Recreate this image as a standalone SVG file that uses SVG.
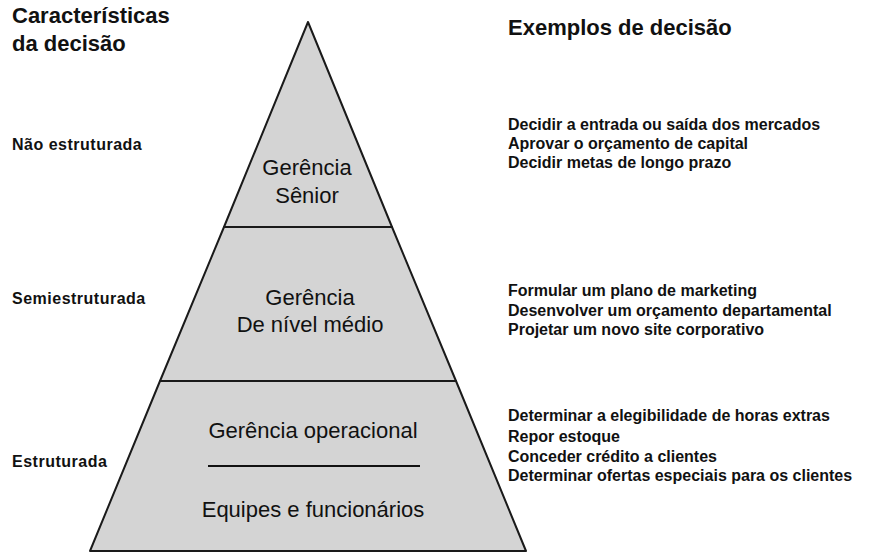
<svg xmlns="http://www.w3.org/2000/svg" width="870" height="560" viewBox="0 0 870 560">
<style>
text{font-family:"Liberation Sans",Arial,sans-serif;fill:#111;}
.h{font-size:22px;font-weight:bold;}
.l{font-size:16px;font-weight:bold;}
.c{font-size:16px;font-weight:bold;letter-spacing:0.5px;}
.n{font-size:22px;text-anchor:middle;}
.tier{fill:#d4d4d4;stroke:#1a1a1a;stroke-width:2;stroke-linejoin:round;}
</style>
<rect width="870" height="560" fill="#fff"/>
<g id="headers">
<text class="h" x="12" y="23">Características</text>
<text class="h" x="12" y="51">da decisão</text>
<text class="h" x="508" y="35">Exemplos de decisão</text>
</g>
<g id="senior">
<polygon class="tier" points="308,22 224,227 392,227"/>
<text class="n" x="307" y="175">Gerência</text>
<text class="n" x="307" y="203">Sênior</text>
</g>
<g id="medio">
<polygon class="tier" points="224,227 392,227 456,381 160,381"/>
<text class="n" x="310" y="305">Gerência</text>
<text class="n" x="310" y="332">De nível médio</text>
</g>
<g id="operacional">
<polygon class="tier" points="160,381 456,381 526,551 90,551"/>
<text class="n" x="313" y="438">Gerência operacional</text>
<line x1="208" y1="466" x2="420" y2="466" stroke="#111" stroke-width="2"/>
<text class="n" x="313" y="517">Equipes e funcionários</text>
</g>
<g id="left-labels">
<text class="c" x="12" y="150">Não estruturada</text>
<text class="c" x="12" y="304">Semiestruturada</text>
<text class="c" x="12" y="467">Estruturada</text>
</g>
<g id="examples">
<text class="l" x="508" y="130">Decidir a entrada ou saída dos mercados</text>
<text class="l" x="508" y="149">Aprovar o orçamento de capital</text>
<text class="l" x="508" y="168">Decidir metas de longo prazo</text>
<text class="l" x="508" y="296">Formular um plano de marketing</text>
<text class="l" x="508" y="316">Desenvolver um orçamento departamental</text>
<text class="l" x="508" y="335">Projetar um novo site corporativo</text>
<text class="l" x="508" y="421">Determinar a elegibilidade de horas extras</text>
<text class="l" x="508" y="442">Repor estoque</text>
<text class="l" x="508" y="462">Conceder crédito a clientes</text>
<text class="l" x="508" y="481">Determinar ofertas especiais para os clientes</text>
</g>
<g id="connectors"></g>
</svg>
